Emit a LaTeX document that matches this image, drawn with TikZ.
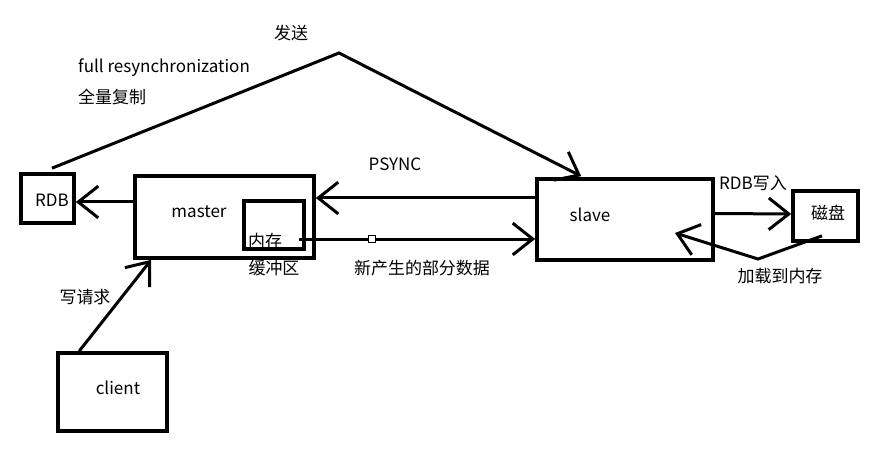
\documentclass[tikz,border=0pt]{standalone}
\usepackage{fontspec}
\setmainfont{Noto Sans CJK SC}
\usetikzlibrary{arrows.meta,calc}

\begin{document}
\begin{tikzpicture}[x=0.03cm,y=-0.03cm,
        box/.style={draw,line width=0.11cm,inner sep=0pt},
        lbl/.style={inner sep=0pt,font=\fontsize{14.5}{16}\selectfont},
        arr/.style={line width=0.09cm,-{Straight Barb[length=0.6cm,width=0.95cm]}}]

            \useasboundingbox (0,0) rectangle (875,456);

            \node[box,minimum width=1.59cm,minimum height=1.47cm] (RDB)    at (47.5,198.5) {};
            \node[box,minimum width=5.37cm,minimum height=2.46cm] (master) at (224.5,217)  {};
            \node[box,minimum width=1.8cm, minimum height=1.44cm] (mem)    at (274,225)    {};
            \node[box,minimum width=5.28cm,minimum height=2.43cm] (slave)  at (625,219.5)  {};
            \node[box,minimum width=1.95cm,minimum height=1.5cm]  (disk)   at (825.5,216)  {};
            \node[box,minimum width=3.27cm,minimum height=2.34cm] (client) at (112.5,392)  {};

            \coordinate (apex) at (339,53);
            \coordinate (bend) at (758,259);

            \node[lbl] (RDBtext)    at (52,200)  {RDB};
            \node[lbl] (mastertext) at (199,212) {master};
            \node[lbl] (memtext)    at (265,241) {内存};
            \node[lbl] (slavetext)  at (590,215) {slave};
            \node[lbl] (disktext)   at (828,213) {磁盘};
            \node[lbl] (clienttext) at (118,388) {client};

            \node[lbl] (send)     at (291,33)  {发送};
            \node[lbl,anchor=west] (fullen) at (78,68) {full resynchronization};
            \node[lbl,anchor=west] (fullcn) at (78,97) {全量复制};
            \node[lbl] (psync)    at (395,164) {PSYNC};
            \node[lbl] (buffer)   at (274,268) {缓冲区};
            \node[lbl] (newdata)  at (422,268) {新产生的部分数据};
            \node[lbl] (rdbwrite) at (753,183) {RDB写入};
            \node[lbl] (load)     at (780,276) {加载到内存};
            \node[lbl] (writereq) at (85,297)  {写请求};

            \draw[arr] ($(master.west)+(0,-15)$) -- ($(RDB.east)+(0,3.5)$);
            \draw[arr] ($(RDB.north)+(4.5,-4)$) -- (apex) -- ($(slave.north west)+(46,-1)$);
            \draw[arr] ($(client.north west)+(23,0)$) -- ($(master.south west)+(18,0)$);
            \draw[arr] ($(slave.west)+(0,-21.5)$) -- ($(master.east)+(0,-19)$);
            \draw[arr] ($(mem.east)+(-7,14)$) -- ($(slave.west)+(0,19.5)$);
            \draw[arr] ($(slave.east)+(0,-6)$) -- ($(disk.west)+(0,-2)$);
            \draw[arr] ($(disk.south)+(-3.5,-7)$) -- (bend) -- ($(slave.center)+(50,13.5)$);

            \node[draw,fill=white,line width=0.03cm,minimum size=0.21cm,inner sep=0pt] (handle) at (372,239) {};

        \end{tikzpicture}
\end{document}
